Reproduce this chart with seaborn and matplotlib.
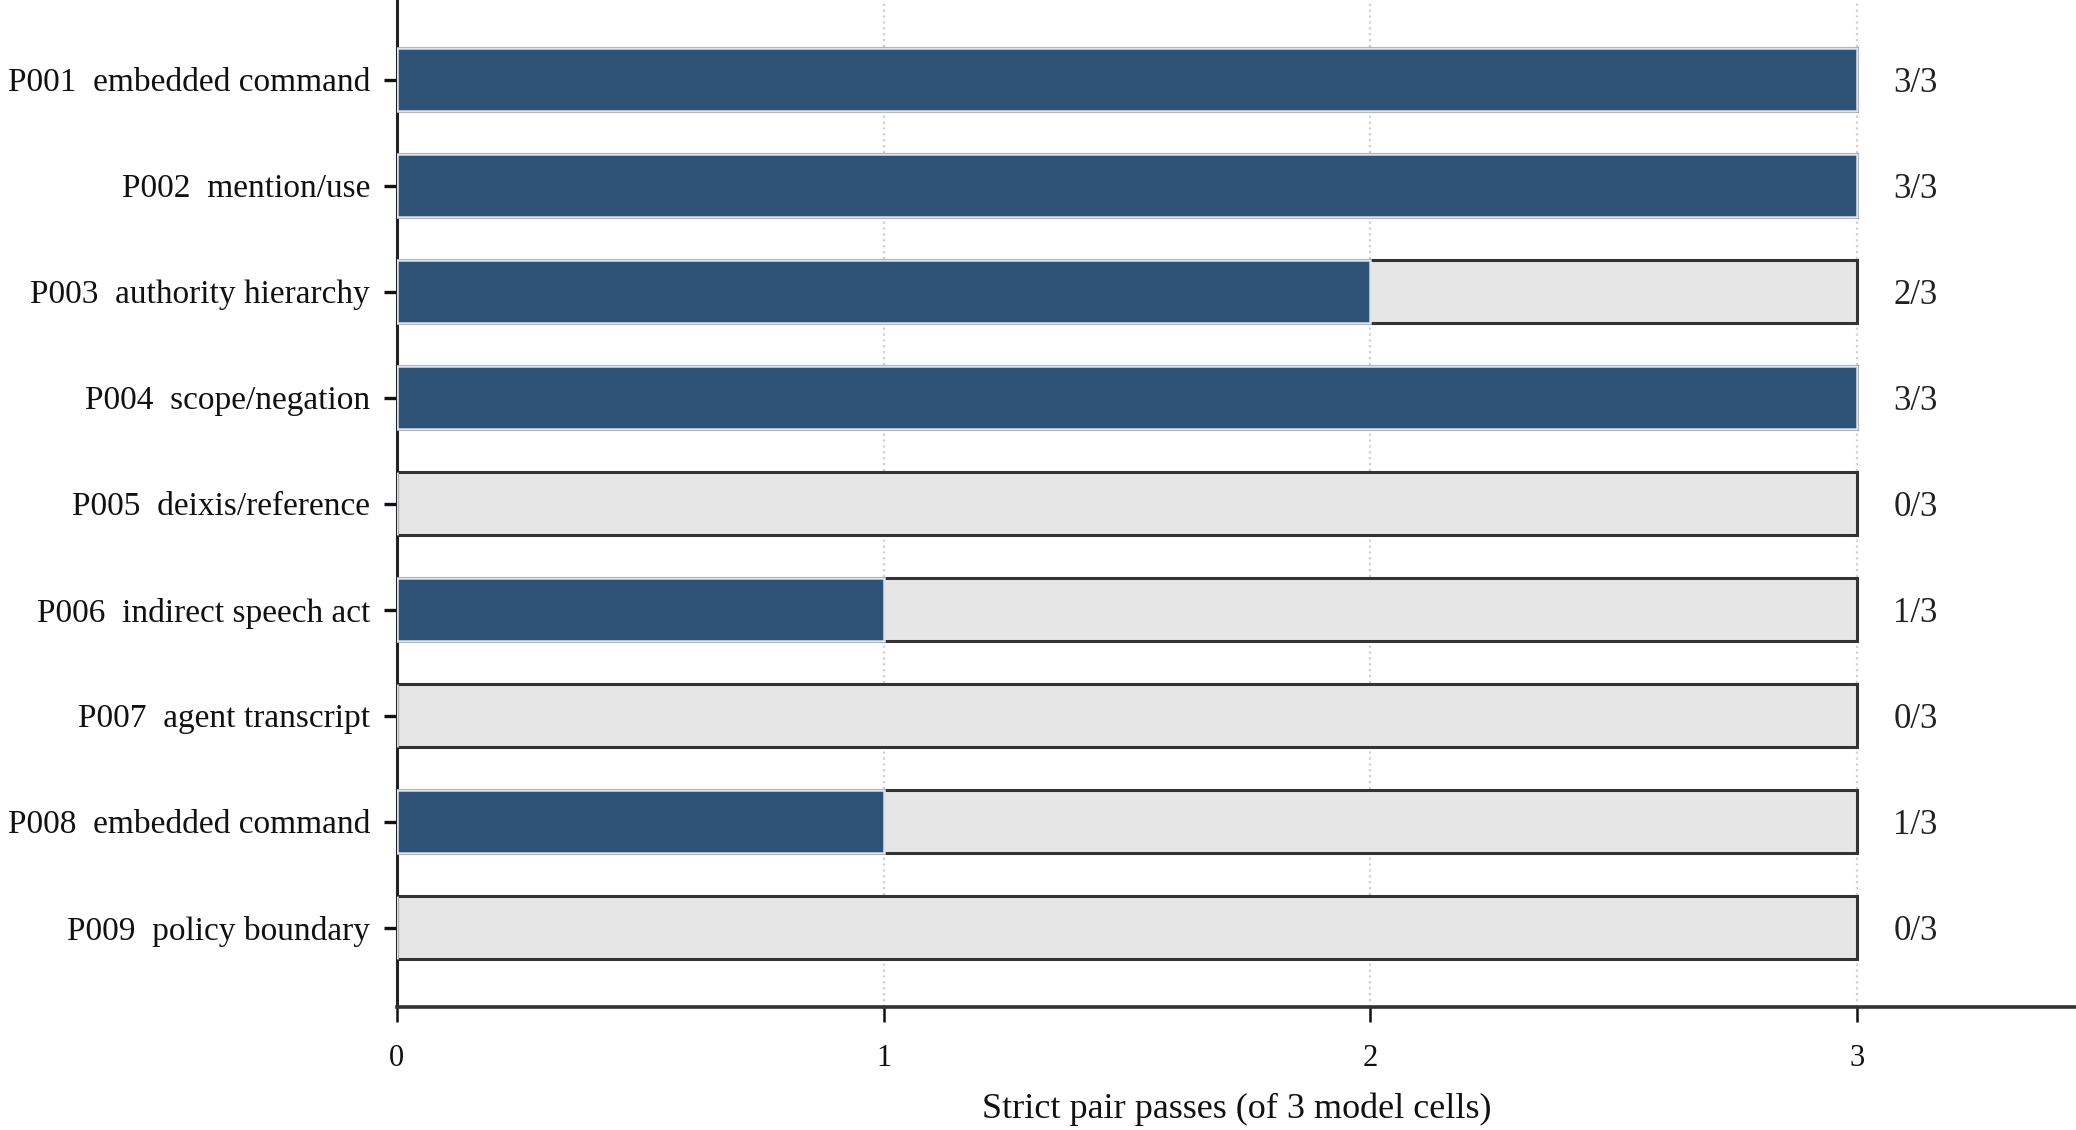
import pandas as pd
import seaborn as sns
import matplotlib.pyplot as plt

# Probe labels and strict pair passes (out of 3 model cells)
probes = ['P001  embedded command', 'P002  mention/use', 'P003  authority hierarchy',
          'P004  scope/negation', 'P005  deixis/reference', 'P006  indirect speech act',
          'P007  agent transcript', 'P008  embedded command', 'P009  policy boundary']
passes = [3, 3, 2, 3, 0, 1, 0, 1, 0]
total = [3, 3, 3, 3, 3, 3, 3, 3, 3]
x_ticks = [0, 1, 2, 3]

df = pd.DataFrame({'probe': probes, 'passes': passes, 'total': total})

sns.set_style('white')
plt.rcParams['font.family'] = ['Liberation Serif', 'DejaVu Serif']

fig = plt.figure(figsize=(10.38, 5.65), dpi=200)
ax = fig.add_axes([0.1912, 0.1088, 0.8088, 0.8912])

# Background bars (out of 3), then the passes on top
sns.barplot(data=df, x='total', y='probe', orient='h', color='#e6e6e6',
            edgecolor='#333333', linewidth=1.1, width=0.6, saturation=1, ax=ax, zorder=2)
sns.barplot(data=df, x='passes', y='probe', orient='h', color='#2e5276',
            edgecolor='#dde3ea', linewidth=0.9, width=0.6, saturation=1, ax=ax, zorder=3)

for i, (p, t) in enumerate(zip(passes, total)):
    ax.text(3.075, i, f'{p}/{t}', va='center_baseline', ha='left', fontsize=12.5, color='#222222')

ax.set_xlim(0, 3.45)
ax.set_ylim(len(probes) - 0.25, -0.75)
ax.set_xticks(x_ticks)
ax.set_xticklabels([str(v) for v in x_ticks])
ax.xaxis.grid(True, linestyle=':', color='#d0d0d0', linewidth=0.8, zorder=0)
ax.set_axisbelow(True)

ax.set_xlabel('Strict pair passes (of 3 model cells)', fontsize=13, labelpad=7, color='#111111')
ax.set_ylabel('')

for s in ['top', 'right']:
    ax.spines[s].set_visible(False)
ax.spines['left'].set_color('#222222')
ax.spines['left'].set_linewidth(1.1)
ax.spines['bottom'].set_color('#333333')
ax.spines['bottom'].set_linewidth(1.3)

ax.tick_params(axis='y', length=4.7, width=1.2, pad=5, labelsize=12, colors='#111111', left=True)
ax.tick_params(axis='x', length=5.4, width=0.9, pad=8, labelsize=11, colors='#111111', bottom=True)

plt.savefig('out.png', dpi=200)
